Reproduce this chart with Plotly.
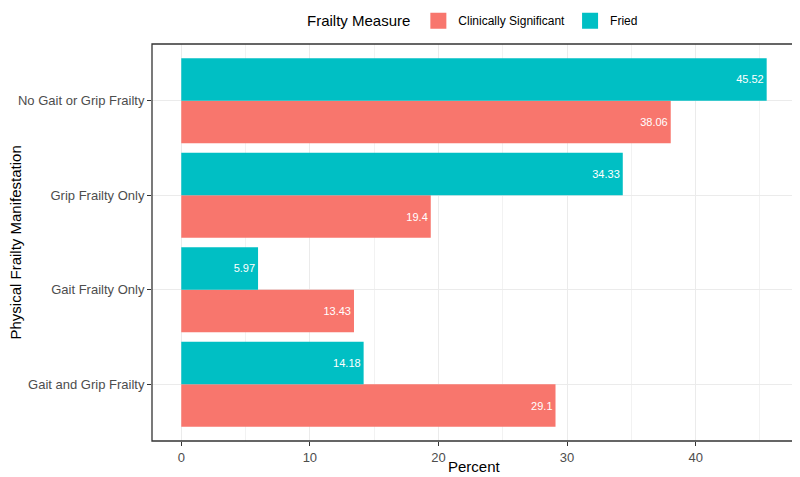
import plotly.graph_objects as go

categories = ["Gait and Grip Frailty", "Gait Frailty Only", "Grip Frailty Only", "No Gait or Grip Frailty"]
clinically_significant = [29.1, 13.43, 19.4, 38.06]
fried = [14.18, 5.97, 34.33, 45.52]

red = "#F8766D"
teal = "#00BFC4"
font = "Liberation Sans, Arial, sans-serif"

fig = go.Figure()
for name, vals, col in [("Clinically Significant", clinically_significant, red), ("Fried", fried, teal)]:
    fig.add_trace(go.Bar(y=categories, x=vals, orientation="h", name=name,
                         marker_color=col, marker_line_width=0, showlegend=False,
                         text=[str(v) for v in vals], textposition="inside",
                         insidetextanchor="end", textfont=dict(color="white", size=11, family=font)))
    # bigger square keys for the legend
    fig.add_trace(go.Scatter(x=[None], y=[None], mode="markers", name=name,
                             marker=dict(symbol="square", size=16, color=col)))

# page body has an 8px margin, so the figure is 8px smaller each way
fig.update_layout(
    width=792, height=469,
    barmode="group", bargap=0.1, bargroupgap=0,
    plot_bgcolor="white", paper_bgcolor="white",
    margin=dict(l=144, r=4, t=36, b=36, autoexpand=False),
    font=dict(family=font, color="#4D4D4D", size=12),
    legend=dict(orientation="h", x=0.5, xanchor="center", y=1.095, yanchor="top",
                itemsizing="trace",
                title=dict(text="Frailty Measure", font=dict(size=15, color="black")),
                font=dict(size=12, color="black"), traceorder="normal"),
    uniformtext=dict(mode="show", minsize=11),
)
fig.update_xaxes(range=[-2.276, 47.8], dtick=10, tick0=0, automargin=False,
                 showgrid=True, gridcolor="#EBEBEB", gridwidth=1.1,
                 minor=dict(dtick=5, showgrid=True, gridcolor="#F2F2F2", gridwidth=0.6),
                 zeroline=False, showline=False,
                 ticks="outside", ticklen=4, tickcolor="#333333",
                 tickfont=dict(size=13, color="#4D4D4D"))
fig.update_yaxes(range=[-0.6, 3.6], categoryorder="array", categoryarray=categories, automargin=False,
                 showgrid=True, gridcolor="#EBEBEB", gridwidth=1.1, showline=False,
                 ticks="outside", ticklen=4, tickcolor="#333333",
                 tickfont=dict(size=13, color="#4D4D4D"))

# panel border
fig.add_shape(type="rect", xref="paper", yref="paper", x0=0, x1=1, y0=0, y1=1,
              line=dict(color="#333333", width=1.3), layer="above")

# axis titles
fig.add_annotation(text="Percent", xref="paper", yref="paper", x=0.5, y=0,
                   yshift=-25, yanchor="middle", showarrow=False,
                   font=dict(size=15, color="black", family=font))
fig.add_annotation(text="Physical Frailty Manifestation", xref="paper", yref="paper", x=0, y=0.5,
                   xshift=-137, xanchor="center", textangle=-90, showarrow=False,
                   font=dict(size=15, color="black", family=font))

fig.write_html("out.html")
